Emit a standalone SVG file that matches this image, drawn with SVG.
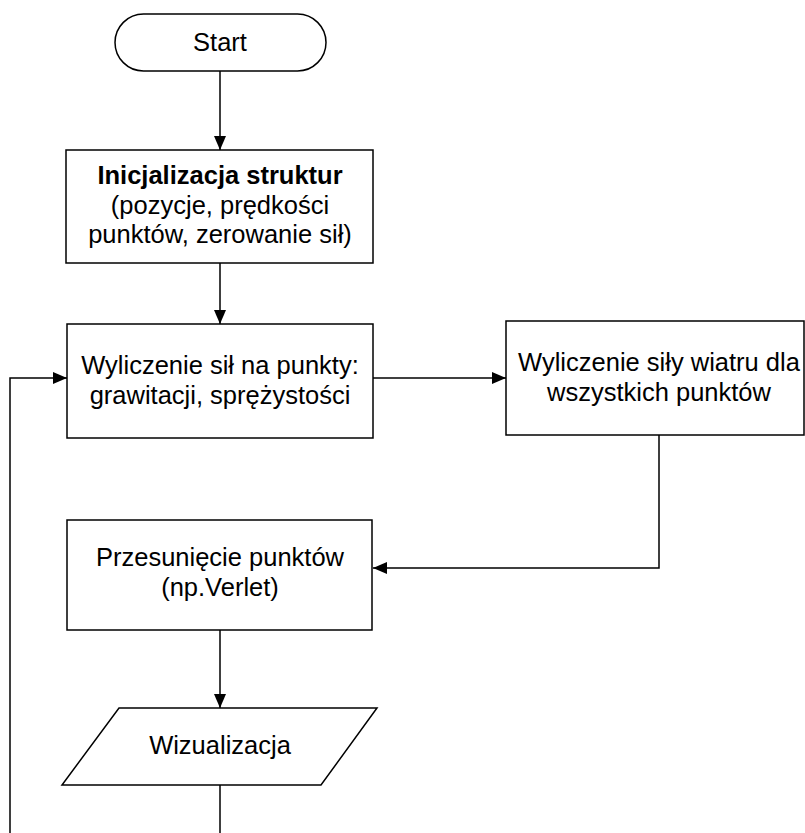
<svg xmlns="http://www.w3.org/2000/svg" width="805" height="833" viewBox="0 0 805 833">
<style>
.n{fill:#fff;stroke:#000;stroke-width:1.5}
.c{fill:none;stroke:#000;stroke-width:1.5}
text{font-family:"Liberation Sans",Arial,sans-serif;font-size:25.5px;fill:#000;text-anchor:middle}
.b{font-weight:bold}
</style>
<defs>
<marker id="ah" markerWidth="14" markerHeight="12" refX="14" refY="6" orient="auto" markerUnits="userSpaceOnUse">
<path d="M0,0 L14,6 L0,12 Z" fill="#000"/>
</marker>
</defs>
<rect width="805" height="833" fill="#fff"/>
<g id="connectors">
<line class="c" x1="220" y1="71" x2="220" y2="150" marker-end="url(#ah)"/>
<line class="c" x1="220" y1="263" x2="220" y2="324" marker-end="url(#ah)"/>
<line class="c" x1="373" y1="378" x2="506" y2="378" marker-end="url(#ah)"/>
<polyline class="c" points="659,435 659,568 373,568" marker-end="url(#ah)"/>
<line class="c" x1="220" y1="630" x2="220" y2="708" marker-end="url(#ah)"/>
<line class="c" x1="220" y1="785" x2="220" y2="833"/>
<polyline class="c" points="10,833 10,378 67,378" marker-end="url(#ah)"/>
</g>
<g id="start">
<rect class="n" x="115" y="14" width="211" height="57" rx="28.5" ry="28.5"/>
<text x="220" y="51">Start</text>
</g>
<g id="init">
<rect class="n" x="66" y="150" width="307" height="113"/>
<text class="b" x="220" y="184">Inicjalizacja struktur</text>
<text x="220" y="214">(pozycje, prędkości</text>
<text x="220" y="243">punktów, zerowanie sił)</text>
</g>
<g id="forces">
<rect class="n" x="67" y="324" width="306" height="114"/>
<text x="220" y="374">Wyliczenie sił na punkty:</text>
<text x="220" y="404">grawitacji, sprężystości</text>
</g>
<g id="wind">
<rect class="n" x="506" y="321" width="298" height="114"/>
<text x="659" y="371">Wyliczenie siły wiatru dla</text>
<text x="659" y="401">wszystkich punktów</text>
</g>
<g id="move">
<rect class="n" x="67" y="520" width="305" height="110"/>
<text x="220" y="566">Przesunięcie punktów</text>
<text x="220" y="596">(np.Verlet)</text>
</g>
<g id="viz">
<polygon class="n" points="119,708 377,708 321,785 62,785"/>
<text x="220" y="754">Wizualizacja</text>
</g>
</svg>
